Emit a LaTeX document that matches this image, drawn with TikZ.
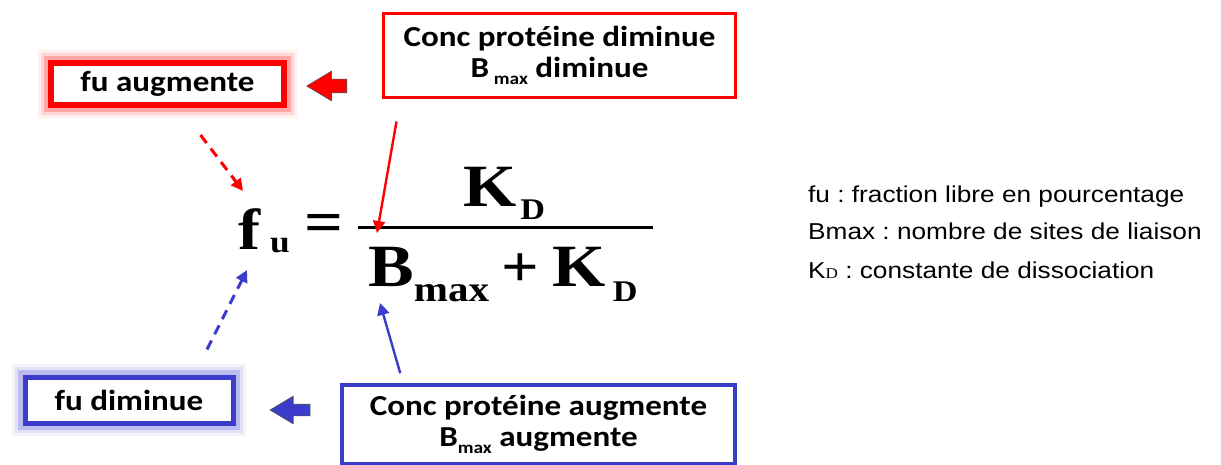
\documentclass[tikz,border=0pt]{standalone}
\usepackage{fontspec}
\setmainfont{Liberation Sans}[FakeStretch=1.14]
\newfontfamily\boxfont{Carlito}[FakeStretch=1.14]
\newfontfamily\frmfont{Liberation Serif}[FakeStretch=1.14]
\usepackage{xcolor}
\definecolor{redc}{HTML}{FF0000}
\definecolor{bluec}{HTML}{3C3CCC}
\definecolor{tipc}{HTML}{555555}
\usetikzlibrary{arrows.meta,positioning,calc,shapes.arrows}
\tikzset{
  >={Triangle[length=12pt,width=12pt]},
  box/.style={draw,fill=white,inner sep=0pt,align=center,font=\boxfont\bfseries\fontsize{29}{31}\selectfont},
  rbox/.style={box,draw=redc,line width=3pt},
  bbox/.style={box,draw=bluec,line width=3.5pt},
  rglow/.style={rbox,line width=6pt,
    preaction={draw=redc!6,line width=26pt,rounded corners=8pt},
    preaction={draw=redc!16,line width=20pt,rounded corners=6pt},
    preaction={draw=redc!35,line width=14pt,rounded corners=4pt}},
  bglow/.style={bbox,line width=5pt,
    preaction={draw=bluec!6,line width=26pt,rounded corners=8pt},
    preaction={draw=bluec!16,line width=20pt,rounded corners=6pt},
    preaction={draw=bluec!35,line width=14pt,rounded corners=4pt}},
  blk/.style={single arrow,shape border rotate=180,minimum height=40pt,single arrow head extend=8pt,single arrow tip angle=62,inner sep=0pt,draw=tipc,line width=0.7pt},
  ptrr/.style={->,draw=redc,line width=2.4pt},
  ptrb/.style={->,draw=bluec,line width=2.4pt},
  dptrr/.style={ptrr,line width=3pt,dash pattern=on 10pt off 7pt},
  dptrb/.style={ptrb,line width=3pt,dash pattern=on 10pt off 7pt},
  frm/.style={inner sep=0pt,anchor=base west,font=\frmfont\bfseries},
  leg/.style={inner sep=0pt,anchor=base west,font=\fontsize{23}{23}\selectfont},
}
\newcommand{\sz}[2]{{\fontsize{#1}{#1}\selectfont #2}}
\frenchspacing

\begin{document}
\begin{tikzpicture}[x=1pt,y=-1pt]
  \useasboundingbox (0,0) rectangle (1221,465);
  % boxes
  \node[rglow,minimum width=233pt,minimum height=42pt] (faug) at (167.5,84) {fu augmente};
  \node[rbox,minimum width=352pt,minimum height=84pt] (cdim) at (559.5,55.5) {Conc protéine diminue\\B\,\raisebox{-7pt}{\sz{17}{max}} diminue};
  \node[bglow,minimum width=208pt,minimum height=46pt] (fdim) at (129,400) {fu diminue};
  \node[bbox,minimum width=393pt,minimum height=79pt] (caug) at (538.5,424.5) {Conc protéine augmente\\B\raisebox{-7pt}{\sz{17}{max}} augmente};
  \node[blk,fill=redc] (tr) at (332.5,86) {\rule{0pt}{13pt}};
  \node[blk,fill=bluec] (tb) at (295,410) {\rule{0pt}{11pt}};
  % formula
  \node[frm] (fu) at (238,250) {\sz{58}{f}\kern10pt\raisebox{-2pt}{\sz{31}{u}}};
  \node[frm,anchor=center] (eq) at (324,228) {\sz{60}{=}};
  \node[frm] (num) at (463,207) {\sz{60}{K}\kern4pt\raisebox{-13pt}{\sz{30}{D}}};
  \node[frm] (den) at (368,287) {\sz{60}{B}\raisebox{-15pt}{\sz{36}{max}}\kern12pt\sz{58}{+}\kern14pt\sz{60}{K}\kern7pt\raisebox{-15pt}{\sz{30}{D}}};
  \coordinate (barl) at (358,228);
  \coordinate (barr) at (653,228);
  \draw[line width=3pt] (barl) -- (barr);
  % arrows
  \draw[dptrr] ($(faug.south)+(33,27)$) -- ($(fu.north west)+(5,-18)$);
  \draw[ptrr] ($(cdim.south west)+(14.5,22.5)$) -- ($(barl)+(19,5)$);
  \draw[dptrb] ($(fdim.north)+(78,-25)$) -- ($(fu.base west)+(9,20)$);
  \draw[ptrb] ($(caug.north west)+(60,-10)$) -- ($(den.base west)+(12,16)$);
  % legend
  \node[leg] (l1) at (808,203) {fu : fraction libre en pourcentage};
  \node[leg] (l2) at (808,240) {Bmax : nombre de sites de liaison};
  \node[leg] (l3) at (808,278) {K{\frmfont\fontsize{15}{15}\selectfont D} : constante de dissociation};
\end{tikzpicture}
\end{document}
